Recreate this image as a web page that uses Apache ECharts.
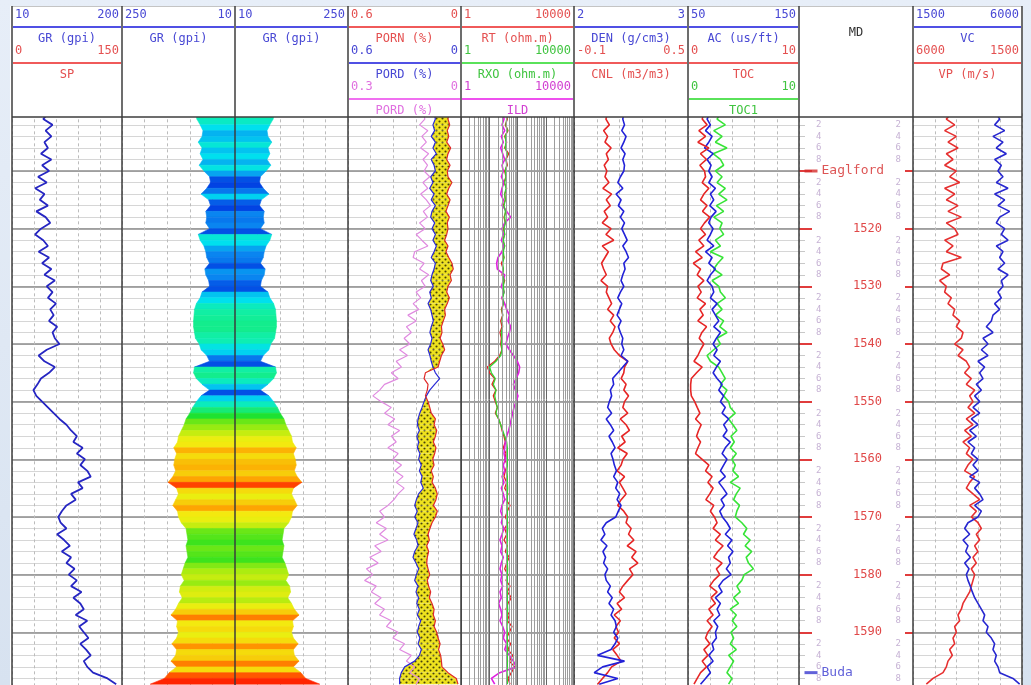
<!DOCTYPE html>
<html>
<head>
<meta charset="utf-8">
<title>Well log</title>
<script src="https://cdn.jsdelivr.net/npm/echarts@6.0.0/dist/echarts.min.js"></script>
<style>
  html, body { margin: 0; padding: 0; }
  body { width: 1031px; height: 685px; overflow: hidden; background: linear-gradient(180deg, #e7eef8 0%, #d7e2f0 100%); }
  #panel { position: absolute; left: 10px; top: 6px; width: 1013px; height: 679px; background: #fff; }
  #chart { position: absolute; left: 0; top: 0; width: 1031px; height: 685px; }
</style>
</head>
<body>
<div id="panel"></div>
<div id="chart"></div>
<script>
// depth samples (m)
const DEPTH = [
  1500, 1501, 1502, 1503, 1504, 1505, 1506, 1507, 1508, 1509,
  1510, 1511, 1512, 1513, 1514, 1515, 1516, 1517, 1518, 1519,
  1520, 1521, 1522, 1523, 1524, 1525, 1526, 1527, 1528, 1529,
  1530, 1531, 1532, 1533, 1534, 1535, 1536, 1537, 1538, 1539,
  1540, 1541, 1542, 1543, 1544, 1545, 1546, 1547, 1548, 1549,
  1550, 1551, 1552, 1553, 1554, 1555, 1556, 1557, 1558, 1559,
  1560, 1561, 1562, 1563, 1564, 1565, 1566, 1567, 1568, 1569,
  1570, 1571, 1572, 1573, 1574, 1575, 1576, 1577, 1578, 1579,
  1580, 1581, 1582, 1583, 1584, 1585, 1586, 1587, 1588, 1589,
  1590, 1591, 1592, 1593, 1594, 1595, 1596, 1597, 1598, 1599
];

// track 1: GR (gpi)
const GR = [
  72, 64, 80, 68, 78, 66, 72, 60, 78, 62,
  74, 55, 70, 50, 66, 58, 72, 52, 68, 76,
  60, 50, 64, 72, 56, 74, 62, 78, 66, 84,
  70, 80, 72, 86, 76, 82, 74, 88, 80, 84,
  92, 70, 56, 66, 84, 74, 60, 54, 47, 52,
  62, 72, 82, 92, 104, 112, 122, 116, 132, 122,
  136, 128, 140, 146, 124, 132, 112, 120, 104, 96,
  90, 94, 104, 88, 100, 110, 96, 112, 104, 118,
  108, 122, 112, 130, 116, 128, 134, 120, 140, 126,
  134, 142, 128, 138, 146, 134, 140, 150, 175, 190
];

// tracks 2-3: mirrored GR fill
const GR_FILL = [
  94, 91, 84, 78, 80, 88, 80, 84, 78, 86,
  76, 64, 62, 70, 82, 66, 62, 72, 70, 72,
  64, 88, 84, 76, 72, 70, 64, 74, 72, 66,
  64, 80, 84, 92, 96, 97, 98, 98, 96, 94,
  86, 82, 70, 64, 96, 98, 92, 80, 64, 82,
  92, 100, 106, 114, 118, 124, 130, 132, 140, 134,
  138, 140, 136, 142, 152, 134, 130, 136, 142, 132,
  130, 124, 114, 112, 110, 114, 112, 110, 116, 120,
  124, 118, 126, 128, 122, 130, 136, 146, 132, 134,
  130, 134, 144, 134, 136, 146, 134, 150, 160, 190
];

// track 4: porosity
const PORD = [
  0.143, 0.136, 0.149, 0.140, 0.158, 0.136, 0.149, 0.131, 0.158, 0.143,
  0.136, 0.161, 0.149, 0.166, 0.143, 0.158, 0.136, 0.154, 0.161, 0.140,
  0.154, 0.136, 0.149, 0.131, 0.143, 0.158, 0.136, 0.143, 0.154, 0.161,
  0.147, 0.166, 0.158, 0.175, 0.161, 0.154, 0.147, 0.158, 0.165, 0.154,
  0.161, 0.175, 0.165, 0.158, 0.149, 0.136, 0.113, 0.140, 0.166, 0.184,
  0.196, 0.207, 0.219, 0.228, 0.232, 0.221, 0.235, 0.225, 0.232, 0.218,
  0.225, 0.211, 0.221, 0.207, 0.214, 0.200, 0.225, 0.237, 0.246, 0.232,
  0.246, 0.228, 0.239, 0.250, 0.235, 0.228, 0.246, 0.255, 0.239, 0.225,
  0.237, 0.246, 0.228, 0.239, 0.225, 0.235, 0.221, 0.232, 0.214, 0.225,
  0.232, 0.218, 0.228, 0.211, 0.221, 0.246, 0.299, 0.317, 0.326, 0.326
];
const PORN = [
  0.065, 0.069, 0.060, 0.073, 0.065, 0.076, 0.055, 0.069, 0.076, 0.058,
  0.073, 0.069, 0.048, 0.065, 0.076, 0.058, 0.069, 0.080, 0.062, 0.073,
  0.069, 0.076, 0.087, 0.069, 0.080, 0.065, 0.048, 0.041, 0.058, 0.051,
  0.069, 0.076, 0.062, 0.073, 0.087, 0.083, 0.094, 0.104, 0.101, 0.111,
  0.097, 0.087, 0.104, 0.113, 0.122, 0.189, 0.196, 0.175, 0.179, 0.189,
  0.175, 0.166, 0.158, 0.136, 0.143, 0.129, 0.136, 0.147, 0.133, 0.140,
  0.150, 0.143, 0.158, 0.147, 0.154, 0.136, 0.126, 0.133, 0.147, 0.126,
  0.136, 0.154, 0.165, 0.175, 0.168, 0.182, 0.172, 0.179, 0.182, 0.175,
  0.166, 0.179, 0.172, 0.161, 0.168, 0.154, 0.143, 0.147, 0.136, 0.143,
  0.129, 0.122, 0.111, 0.119, 0.108, 0.104, 0.101, 0.069, 0.025, 0.016
];
const PORD2 = [
  0.100, 0.096, 0.110, 0.088, 0.104, 0.092, 0.107, 0.086, 0.101, 0.089,
  0.098, 0.083, 0.101, 0.088, 0.107, 0.092, 0.081, 0.100, 0.089, 0.110,
  0.095, 0.119, 0.104, 0.088, 0.123, 0.127, 0.098, 0.110, 0.086, 0.105,
  0.095, 0.119, 0.107, 0.127, 0.112, 0.141, 0.119, 0.145, 0.132, 0.151,
  0.136, 0.163, 0.142, 0.172, 0.158, 0.185, 0.167, 0.203, 0.216, 0.234,
  0.212, 0.185, 0.203, 0.176, 0.194, 0.163, 0.185, 0.172, 0.194, 0.167,
  0.181, 0.158, 0.176, 0.154, 0.172, 0.151, 0.167, 0.178, 0.194, 0.216,
  0.203, 0.225, 0.198, 0.216, 0.194, 0.229, 0.212, 0.242, 0.220, 0.251,
  0.234, 0.256, 0.225, 0.238, 0.212, 0.229, 0.203, 0.216, 0.185, 0.198,
  0.167, 0.181, 0.150, 0.163, 0.132, 0.145, 0.123, 0.136, 0.110, 0.119
];

// track 5: resistivity (ohm.m)
const RT = [
  39.2, 43.7, 37.1, 46.1, 35.2, 41.4, 35.2, 48.7, 39.2, 43.7,
  35.2, 39.2, 33.3, 41.4, 35.2, 37.1, 31.5, 39.2, 33.3, 37.1,
  31.5, 35.2, 29.9, 35.2, 28.3, 33.3, 26.8, 31.5, 28.3, 35.2,
  29.9, 33.3, 28.3, 31.5, 26.8, 29.9, 25.4, 28.3, 24.0, 26.8,
  25.4, 28.3, 23.4, 15.6, 8.55, 10.3, 15.6, 12.5, 17.3, 13.9,
  16.4, 19.3, 16.4, 21.5, 25.4, 28.3, 33.3, 37.1, 31.5, 39.2,
  35.2, 43.7, 37.1, 33.3, 41.4, 35.2, 46.1, 39.2, 54.3, 43.7,
  37.1, 46.1, 35.2, 41.4, 33.3, 43.7, 37.1, 51.4, 41.4, 35.2,
  46.1, 39.2, 54.3, 43.7, 60.5, 46.1, 39.2, 51.4, 43.7, 63.9,
  51.4, 41.4, 57.3, 46.1, 67.4, 51.4, 79.4, 60.5, 46.1, 54.3
];
const RXO = [
  39.2, 41.4, 39.2, 43.7, 37.1, 39.2, 37.1, 43.7, 39.2, 41.4,
  37.1, 39.2, 35.2, 39.2, 35.2, 37.1, 33.3, 37.1, 35.2, 37.1,
  33.3, 35.2, 31.5, 35.2, 31.5, 33.3, 29.9, 31.5, 29.9, 33.3,
  31.5, 33.3, 29.9, 31.5, 28.3, 29.9, 28.3, 29.9, 26.8, 28.3,
  26.8, 28.3, 25.4, 17.3, 10.3, 11.9, 16.4, 13.9, 17.3, 15.6,
  17.3, 19.3, 17.3, 21.5, 25.4, 29.9, 35.2, 41.4, 43.7, 43.7,
  43.7, 43.7, 42.5, 43.7, 43.7, 44.9, 43.7, 43.7, 42.5, 43.7,
  43.7, 43.7, 44.9, 43.7, 43.7, 42.5, 43.7, 43.7, 43.7, 44.9,
  43.7, 43.7, 42.5, 43.7, 43.7, 43.7, 44.9, 43.7, 43.7, 42.5,
  43.7, 43.7, 43.7, 44.9, 43.7, 43.7, 43.7, 42.5, 43.7, 43.7
];
const ILD = [
  31.5, 33.3, 28.3, 35.2, 26.8, 31.5, 25.4, 29.9, 35.2, 28.3,
  31.5, 26.8, 33.3, 28.3, 25.4, 31.5, 28.3, 41.4, 57.3, 35.2,
  28.3, 31.5, 26.8, 33.3, 28.3, 20.4, 18.3, 19.3, 35.2, 31.5,
  26.8, 33.3, 28.3, 35.2, 41.4, 51.4, 46.1, 57.3, 51.4, 43.7,
  39.2, 51.4, 71.2, 98.6, 119, 110, 88.5, 71.2, 83.8, 104,
  88.5, 75.2, 67.4, 60.5, 54.3, 48.7, 41.4, 37.1, 35.2, 33.3,
  37.1, 31.5, 35.2, 28.3, 33.3, 26.8, 31.5, 35.2, 28.3, 25.4,
  29.9, 26.8, 33.3, 28.3, 24.0, 28.3, 25.4, 31.5, 26.8, 24.0,
  28.3, 25.4, 29.9, 24.0, 26.8, 21.5, 25.4, 28.3, 24.0, 29.9,
  35.2, 31.5, 41.4, 35.2, 51.4, 71.2, 91, 23.4, 11.9, 15.6
];

// track 6: density / neutron
const DEN = [
  2.437, 2.428, 2.443, 2.419, 2.457, 2.437, 2.413, 2.448, 2.428, 2.443,
  2.437, 2.407, 2.384, 2.428, 2.369, 2.413, 2.389, 2.437, 2.407, 2.443,
  2.419, 2.443, 2.466, 2.428, 2.457, 2.478, 2.437, 2.448, 2.428, 2.413,
  2.437, 2.407, 2.384, 2.419, 2.398, 2.378, 2.413, 2.389, 2.407, 2.428,
  2.419, 2.437, 2.413, 2.472, 2.428, 2.384, 2.339, 2.348, 2.319, 2.330,
  2.310, 2.295, 2.330, 2.283, 2.319, 2.348, 2.307, 2.336, 2.360, 2.325,
  2.342, 2.354, 2.372, 2.348, 2.384, 2.366, 2.401, 2.378, 2.413, 2.389,
  2.366, 2.283, 2.248, 2.271, 2.236, 2.289, 2.254, 2.277, 2.260, 2.295,
  2.271, 2.283, 2.319, 2.295, 2.336, 2.307, 2.348, 2.325, 2.360, 2.372,
  2.348, 2.384, 2.360, 2.325, 2.207, 2.443, 2.251, 2.177, 2.384, 2.221
];
const CNL = [
  0.077, 0.068, 0.086, 0.056, 0.077, 0.063, 0.095, 0.070, 0.081, 0.059,
  0.073, 0.063, 0.084, 0.052, 0.098, 0.070, 0.091, 0.059, 0.077, 0.049,
  0.095, 0.068, 0.109, 0.049, 0.081, 0.063, 0.045, 0.056, 0.070, 0.042,
  0.077, 0.070, 0.084, 0.098, 0.077, 0.109, 0.091, 0.116, 0.104, 0.086,
  0.095, 0.112, 0.139, 0.183, 0.166, 0.162, 0.148, 0.174, 0.162, 0.187,
  0.166, 0.157, 0.183, 0.144, 0.174, 0.192, 0.151, 0.169, 0.130, 0.180,
  0.158, 0.148, 0.127, 0.166, 0.139, 0.157, 0.174, 0.148, 0.130, 0.162,
  0.183, 0.174, 0.201, 0.187, 0.215, 0.180, 0.227, 0.204, 0.236, 0.192,
  0.210, 0.183, 0.157, 0.139, 0.166, 0.127, 0.151, 0.112, 0.144, 0.121,
  0.134, 0.112, 0.139, 0.104, 0.127, 0.148, 0.098, 0.077, 0.050, 0.024
];

// track 7: sonic / TOC
const AC = [
  69.6, 67.2, 70.2, 65.8, 71.7, 68.7, 64.9, 72.6, 67.2, 70.8,
  68.7, 71.7, 68.7, 74.7, 70.2, 73.2, 69.6, 75.3, 70.8, 68.7,
  72.6, 70.2, 67.2, 73.2, 65.8, 71.7, 68.7, 74.7, 70.2, 67.2,
  71.7, 73.2, 70.2, 76.2, 71.7, 74.7, 77.7, 73.2, 79.2, 75.6,
  72.6, 76.2, 73.2, 79.2, 75.6, 72.6, 76.2, 80.7, 77.7, 82.1,
  79.2, 83.6, 80.7, 86.6, 82.1, 85.1, 81.6, 88.1, 83.6, 80.7,
  85.1, 82.1, 79.2, 83.6, 77.7, 81.6, 85.1, 79.8, 82.7, 78.6,
  81.0, 85.1, 88.1, 83.6, 89.6, 85.7, 90.5, 86.6, 88.1, 84.5,
  88.7, 81.6, 77.7, 80.7, 74.7, 79.2, 76.2, 78.6, 73.2, 76.8,
  74.7, 75.6, 71.7, 73.2, 68.7, 72.6, 67.2, 70.2, 65.8, 61.3
];
const TOC = [
  1.43, 1.28, 1.72, 0.98, 1.58, 0.89, 1.88, 1.13, 1.67, 1.07,
  1.49, 1.58, 1.28, 1.88, 1.43, 1.13, 1.72, 1.31, 1.96, 1.49,
  1.13, 1.58, 0.98, 1.43, 0.68, 1.28, 0.48, 1.13, 0.83, 1.43,
  0.89, 1.19, 0.83, 1.58, 1.07, 1.37, 0.89, 1.67, 1.25, 1.01,
  1.43, 1.13, 0.89, 0.54, 1.28, 0.77, 0.30, 0.24, 0.24, 0.30,
  0.60, 0.83, 1.07, 0.68, 1.19, 0.95, 0.77, 1.13, 0.89, 0.68,
  1.28, 1.88, 1.58, 2.17, 1.79, 2.26, 1.96, 1.61, 2.32, 2.02,
  2.38, 2.62, 2.26, 2.92, 2.47, 3.16, 2.68, 2.32, 3.07, 2.56,
  2.86, 2.32, 1.96, 2.62, 2.08, 2.47, 1.88, 2.26, 1.72, 2.17,
  1.79, 1.58, 1.96, 1.43, 1.79, 1.28, 1.67, 1.13, 0.83, 0.54
];
const TOC1 = [
  2.92, 2.62, 3.36, 2.32, 3.07, 2.47, 3.51, 2.26, 2.92, 3.21,
  2.47, 3.07, 2.62, 3.36, 2.77, 3.51, 2.56, 3.21, 2.32, 3.07,
  2.86, 3.21, 2.47, 2.92, 2.02, 3.16, 2.68, 2.32, 3.07, 2.17,
  2.77, 2.92, 3.36, 2.62, 3.07, 2.47, 3.21, 2.86, 3.51, 2.62,
  2.92, 2.32, 1.72, 2.02, 2.77, 3.07, 3.36, 2.92, 3.51, 3.21,
  3.66, 3.81, 4.26, 3.66, 4.05, 4.40, 3.87, 4.17, 3.81, 4.35,
  3.96, 4.26, 4.05, 4.55, 3.81, 4.70, 4.35, 4.11, 4.64, 4.40,
  4.26, 4.85, 5.30, 5.00, 5.60, 5.15, 5.74, 5.24, 5.45, 5.89,
  5.06, 4.85, 4.40, 4.70, 4.11, 4.55, 3.81, 4.35, 3.99, 4.40,
  3.87, 4.11, 3.81, 4.35, 3.66, 4.11, 3.81, 3.51, 3.96, 3.66
];

// track 9: velocities (m/s)
const VC = [
  4940, 5078, 4871, 5284, 4802, 5215, 4940, 5353, 4871, 5146,
  5009, 5215, 4940, 5422, 4871, 5284, 5009, 5490, 5078, 4940,
  5284, 5146, 5422, 4940, 5215, 5078, 5284, 5009, 5422, 5146,
  5215, 5009, 5146, 4871, 5078, 4802, 4734, 4527, 4802, 4390,
  4596, 4321, 4596, 4183, 4458, 4252, 4390, 4114, 4321, 4046,
  4252, 3977, 4252, 3908, 4183, 3839, 4114, 3770, 4046, 3908,
  4183, 3977, 4183, 3839, 4252, 4046, 4252, 4390, 4046, 4321,
  4183, 3770, 3633, 3839, 3564, 3770, 3674, 3867, 3633, 3812,
  3702, 3770, 3867, 3949, 4046, 4183, 4321, 4458, 4390, 4596,
  4527, 4734, 4871, 4802, 4940, 4871, 5009, 5078, 5628, 5903
];
const VP = [
  4418, 4624, 4280, 4693, 4211, 4555, 4142, 4624, 4349, 4693,
  4211, 4486, 4074, 4693, 4280, 4624, 4142, 4555, 4005, 4624,
  4280, 4142, 4693, 4349, 4624, 4005, 4762, 4830, 4486, 4899,
  4624, 4693, 4418, 4555, 4280, 4349, 4074, 4211, 3936, 4005,
  4280, 3936, 4142, 3798, 3661, 3867, 3592, 3798, 3454, 3661,
  3523, 3730, 3454, 3798, 3523, 3867, 3592, 3936, 3661, 3798,
  3523, 3730, 3867, 3454, 3661, 3798, 3523, 3248, 3661, 3386,
  3592, 3317, 3179, 3386, 3248, 3454, 3317, 3523, 3386, 3592,
  3454, 3523, 3592, 3661, 3798, 3936, 4005, 4142, 4074, 4280,
  4211, 4349, 4280, 4486, 4376, 4555, 4624, 4762, 5174, 5450
];

// formation tops
const TOPS_NAME = ['Eaglford', 'Buda'];
const TOPS_DEPTH = [1510, 1597];
const TOPS_COLOR = ['#d42a2a', '#3a3ad0'];

// log grid lines between decades
const LOG_MINOR = [2, 3, 4, 5, 6, 7, 8, 9, 20, 30, 40, 50, 60, 70, 80, 90,
  200, 300, 400, 500, 600, 700, 800, 900, 2000, 3000, 4000, 5000, 6000, 7000, 8000, 9000];

// header rows: left scale, right scale, curve name, colour
const HEADER = [
  [['10', '200', 'GR (gpi)', 'blue'], ['0', '150', 'SP', 'red']],
  [['250', '10', 'GR (gpi)', 'blue']],
  [['10', '250', 'GR (gpi)', 'blue']],
  [['0.6', '0', 'PORN (%)', 'red'], ['0.6', '0', 'PORD (%)', 'blue'], ['0.3', '0', 'PORD (%)', 'pink']],
  [['1', '10000', 'RT (ohm.m)', 'red'], ['1', '10000', 'RXO (ohm.m)', 'green'], ['1', '10000', 'ILD', 'magenta']],
  [['2', '3', 'DEN (g/cm3)', 'blue'], ['-0.1', '0.5', 'CNL (m3/m3)', 'red']],
  [['50', '150', 'AC (us/ft)', 'blue'], ['0', '10', 'TOC', 'red'], ['0', '10', 'TOC1', 'green']],
  [],
  [['1500', '6000', 'VC', 'blue'], ['6000', '1500', 'VP (m/s)', 'red']]
];

const DEPTH_MIN = 1500, DEPTH_MAX = 1600;
const TRACK_X = [12, 122, 235, 348, 461, 574, 688, 799, 913, 1022];
const PLOT_TOP = 113.34, PLOT_H = 576.6;
const FONT = '"DejaVu Sans Mono", monospace';
const HEAD_TEXT = { blue: '#4848d4', red: '#e45050', green: '#40c440', magenta: '#d240d2', pink: '#e070e0' };
const HEAD_LINE = { blue: '#5050e4', red: '#f05a5a', green: '#5ae25a', magenta: '#ee50ee', pink: '#f070f0' };

const grids = [], xAxes = [], yAxes = [], series = [];

TRACK_X.slice(0, -1).forEach((x, i) => {
    grids.push({ left: x, top: PLOT_TOP, width: TRACK_X[i + 1] - x, height: PLOT_H,
        containLabel: false, outerBoundsMode: 'none' });
});

function quiet() {
    return { axisLine: { show: false }, axisTick: { show: false }, axisLabel: { show: false } };
}

// minor (2 m) and major (10 m) depth lines for one track
function depthAxes(g, show) {
    const idx = yAxes.length;
    yAxes.push(Object.assign({ gridIndex: g, type: 'value', inverse: true, min: DEPTH_MIN, max: DEPTH_MAX, interval: 2,
        splitLine: { show: show, lineStyle: { color: '#d6d6d6', width: 1 } } }, quiet()));
    yAxes.push(Object.assign({ gridIndex: g, type: 'value', inverse: true, min: DEPTH_MIN, max: DEPTH_MAX, interval: 10,
        splitLine: { show: show, lineStyle: { color: '#8c8c8c', width: 1.5 } } }, quiet()));
    return idx;
}

// dashed vertical divisions
function divisionAxis(g) {
    xAxes.push(Object.assign({ gridIndex: g, type: 'value', min: 0, max: 5, interval: 1,
        splitLine: { show: true, lineStyle: { color: '#bcbcbc', width: 1, type: [3, 3] } } }, quiet()));
}

function curveAxis(g, min, max, inverse) {
    xAxes.push({ gridIndex: g, type: 'value', min: min, max: max, inverse: !!inverse, show: false });
    return xAxes.length - 1;
}

function curve(name, vals, xi, yi, color, width) {
    series.push({ name: name, type: 'line', xAxisIndex: xi, yAxisIndex: yi,
        data: vals.map((v, k) => [v, DEPTH[k]]), symbol: 'none', silent: true, z: 3,
        lineStyle: { color: color, width: width || 1.6 } });
    return series[series.length - 1];
}

// track 1
const y0 = depthAxes(0, true);
divisionAxis(0);
curve('GR', GR, curveAxis(0, 10, 200), y0, '#2626c2', 1.8);

// tracks 2-3: mirrored GR fill coloured by value
function grFill(g, inverse) {
    const yi = depthAxes(g, true);
    divisionAxis(g);
    const xi = curveAxis(g, 10, 250, inverse);
    series.push({
        type: 'custom', xAxisIndex: xi, yAxisIndex: yi, silent: true, clip: true, z: 2,
        encode: { x: [0, 2], y: [1, 3] },
        data: GR_FILL.slice(0, -1).map((v, i) => [v, DEPTH[i], GR_FILL[i + 1], DEPTH[i + 1]]),
        renderItem: function (params, api) {
            const d0 = api.value(1), d1 = api.value(3);
            const pts = [api.coord([10, d0]), api.coord([api.value(0), d0]),
                api.coord([api.value(2), d1]), api.coord([10, d1])];
            const col = api.visual('color');
            return { type: 'polygon', shape: { points: pts }, style: { fill: col, stroke: col, lineWidth: 0.6 } };
        }
    });
    return series.length - 1;
}
const fillA = grFill(1, true);
const fillB = grFill(2, false);

// track 4
function dotPattern() {
    const c = document.createElement('canvas');
    c.width = 6; c.height = 6;
    const ctx = c.getContext('2d');
    ctx.fillStyle = '#eee21e';
    ctx.fillRect(0, 0, 6, 6);
    ctx.fillStyle = '#46420c';
    [[1.5, 1.5], [4.5, 4.5]].forEach(p => {
        ctx.beginPath(); ctx.arc(p[0], p[1], 1.05, 0, Math.PI * 2); ctx.fill();
    });
    return c;
}
const PATTERN = dotPattern();
const y3 = depthAxes(3, true);
divisionAxis(3);
const xPor = curveAxis(3, 0, 0.6, true);
const xPor2 = curveAxis(3, 0, 0.3, true);
series.push({
    type: 'custom', xAxisIndex: xPor, yAxisIndex: y3, silent: true, clip: true, z: 2,
    encode: { x: [0, 1, 3, 4], y: [2, 5] },
    data: PORD.slice(0, -1).map((v, i) => [v, PORN[i], DEPTH[i], PORD[i + 1], PORN[i + 1], DEPTH[i + 1]]),
    renderItem: function (params, api) {
        const n0 = api.value(1), n1 = api.value(4);
        const a0 = Math.max(api.value(0), n0), a1 = Math.max(api.value(3), n1);
        if (a0 === n0 && a1 === n1) return;
        const d0 = api.value(2), d1 = api.value(5);
        const pts = [api.coord([a0, d0]), api.coord([a1, d1]), api.coord([n1, d1]), api.coord([n0, d0])];
        return { type: 'polygon', shape: { points: pts }, style: { fill: { image: PATTERN, repeat: 'repeat' } } };
    }
});
curve('PORD2', PORD2, xPor2, y3, '#e08ae0', 1.2);
curve('PORD', PORD, xPor, y3, '#2a2ad6', 1.2);
curve('PORN', PORN, xPor, y3, '#e02a2a', 1.2);

// track 5: logarithmic
const y4 = depthAxes(4, true);
xAxes.push(Object.assign({ gridIndex: 4, type: 'log', logBase: 10, min: 1, max: 10000,
    splitLine: { show: true, lineStyle: { color: '#666666', width: 1 } } }, quiet()));
const xRes = xAxes.length - 1;
curve('RT', RT, xRes, y4, '#e42020', 1.3).markLine = {
    silent: true, symbol: ['none', 'none'], animation: false, label: { show: false },
    lineStyle: { color: '#9c9c9c', width: 1, type: 'solid' },
    data: LOG_MINOR.map(v => ({ xAxis: v }))
};
curve('ILD', ILD, xRes, y4, '#e020e0', 1.6);
curve('RXO', RXO, xRes, y4, '#32d632', 1.3);

// track 6
const y5 = depthAxes(5, true);
divisionAxis(5);
curve('CNL', CNL, curveAxis(5, -0.1, 0.5), y5, '#e62626');
curve('DEN', DEN, curveAxis(5, 2, 3), y5, '#2222d8');

// track 7
const y6 = depthAxes(6, true);
divisionAxis(6);
const xToc = curveAxis(6, 0, 10);
curve('TOC1', TOC1, xToc, y6, '#38e438');
curve('AC', AC, curveAxis(6, 50, 150), y6, '#2222d8');
curve('TOC', TOC, xToc, y6, '#e62626');

// track 8: depth scale
const xDepth = curveAxis(7, 0, 1);
const depthBase = { gridIndex: 7, type: 'value', inverse: true, min: DEPTH_MIN, max: DEPTH_MAX,
    axisLine: { show: false }, splitLine: { show: false } };
yAxes.push(Object.assign({}, depthBase, { interval: 2, position: 'left',
    axisTick: { show: true, inside: true, length: 6, lineStyle: { color: '#c8c8c8', width: 1 } },
    axisLabel: { show: true, inside: true, margin: 17, color: '#c6b2d4', fontSize: 9, fontFamily: FONT,
        showMinLabel: false, showMaxLabel: false, formatter: v => (v % 10 ? String(v % 10) : '') } }));
yAxes.push(Object.assign({}, depthBase, { interval: 2, position: 'right',
    axisTick: { show: false },
    axisLabel: { show: true, inside: true, margin: 12, color: '#c6b2d4', fontSize: 9, fontFamily: FONT,
        showMinLabel: false, showMaxLabel: false, formatter: v => (v % 10 ? String(v % 10) : '') } }));
const yDepth = yAxes.length;
yAxes.push(Object.assign({}, depthBase, { interval: 10, position: 'left',
    axisTick: { show: true, inside: true, length: 13, lineStyle: { color: '#e03c3c', width: 2 } },
    axisLabel: { show: true, inside: true, margin: 54, color: '#e04848', fontSize: 12, fontFamily: FONT,
        padding: [0, 0, 5, 0], showMinLabel: false, showMaxLabel: false,
        formatter: v => (TOPS_DEPTH.indexOf(v) >= 0 ? '' : String(v)) } }));
yAxes.push(Object.assign({}, depthBase, { interval: 10, position: 'right',
    axisTick: { show: true, inside: true, length: 8, lineStyle: { color: '#e03c3c', width: 2 } },
    axisLabel: { show: false } }));
series.push({
    type: 'scatter', xAxisIndex: xDepth, yAxisIndex: yDepth, silent: true, clip: false, z: 5,
    symbol: 'rect', symbolSize: [13, 3], symbolOffset: [12, 0],
    data: TOPS_NAME.map((n, k) => ({ name: n, value: [0, TOPS_DEPTH[k]],
        itemStyle: { color: TOPS_COLOR[k] }, label: { color: TOPS_COLOR[k] } })),
    label: { show: true, position: 'right', distance: 4, formatter: '{b}', fontSize: 13, fontFamily: FONT,
        padding: [0, 0, 4, 0] }
});

// track 9
const y8 = depthAxes(8, true);
divisionAxis(8);
curve('VP', VP, curveAxis(8, 1500, 6000, true), y8, '#e63030');
curve('VC', VC, curveAxis(8, 1500, 6000), y8, '#2828d0');

// header panel, text and track frames
const els = [];
function headText(str, x, y, align, color) {
    els.push({ type: 'text', z: 102, style: { text: str, x: x, y: y, fill: color, fontSize: 12,
        fontFamily: FONT, textAlign: align, textVerticalAlign: 'middle' } });
}
els.push({ type: 'rect', z: 100, shape: { x: TRACK_X[0], y: 6, width: TRACK_X[9] - TRACK_X[0], height: 111 },
    style: { fill: '#ffffff' } });
HEADER.forEach((rows, t) => {
    const x0 = TRACK_X[t], x1 = TRACK_X[t + 1];
    rows.forEach((r, k) => {
        const y = 15 + 36 * k;
        headText(r[0], x0 + 3, y, 'left', HEAD_TEXT[r[3]]);
        headText(r[1], x1 - 3, y, 'right', HEAD_TEXT[r[3]]);
        els.push({ type: 'line', z: 101, shape: { x1: x0 + 1, y1: y + 12, x2: x1 - 1, y2: y + 12 },
            style: { stroke: HEAD_LINE[r[3]], lineWidth: 2 } });
        headText(r[2], (x0 + x1) / 2, y + 24, 'center', HEAD_TEXT[r[3]]);
    });
});
headText('MD', (TRACK_X[7] + TRACK_X[8]) / 2, 33, 'center', '#333333');
els.push({ type: 'line', z: 103, shape: { x1: TRACK_X[0], y1: 6.5, x2: TRACK_X[9], y2: 6.5 },
    style: { stroke: '#c4c4c4', lineWidth: 1 } });
els.push({ type: 'line', z: 103, shape: { x1: TRACK_X[0], y1: 117, x2: TRACK_X[9], y2: 117 },
    style: { stroke: '#3c3c3c', lineWidth: 1.5 } });
TRACK_X.forEach(x => {
    els.push({ type: 'line', z: 103, shape: { x1: x, y1: 6, x2: x, y2: 685 },
        style: { stroke: '#3c3c3c', lineWidth: 1.5 } });
});

const chart = echarts.init(document.getElementById('chart'));
chart.setOption({
    backgroundColor: 'transparent',
    animation: false,
    grid: grids,
    xAxis: xAxes,
    yAxis: yAxes,
    visualMap: [{
        type: 'continuous', show: false, seriesIndex: [fillA, fillB], dimension: 0, min: 60, max: 155,
        inRange: { color: ['#0036e0', '#0a84f0', '#00e0f0', '#10f0a8', '#20e020', '#a8ec10', '#f2ee10', '#ff9c00', '#ff2400'] }
    }],
    graphic: { elements: els },
    series: series
});
</script>
</body>
</html>
